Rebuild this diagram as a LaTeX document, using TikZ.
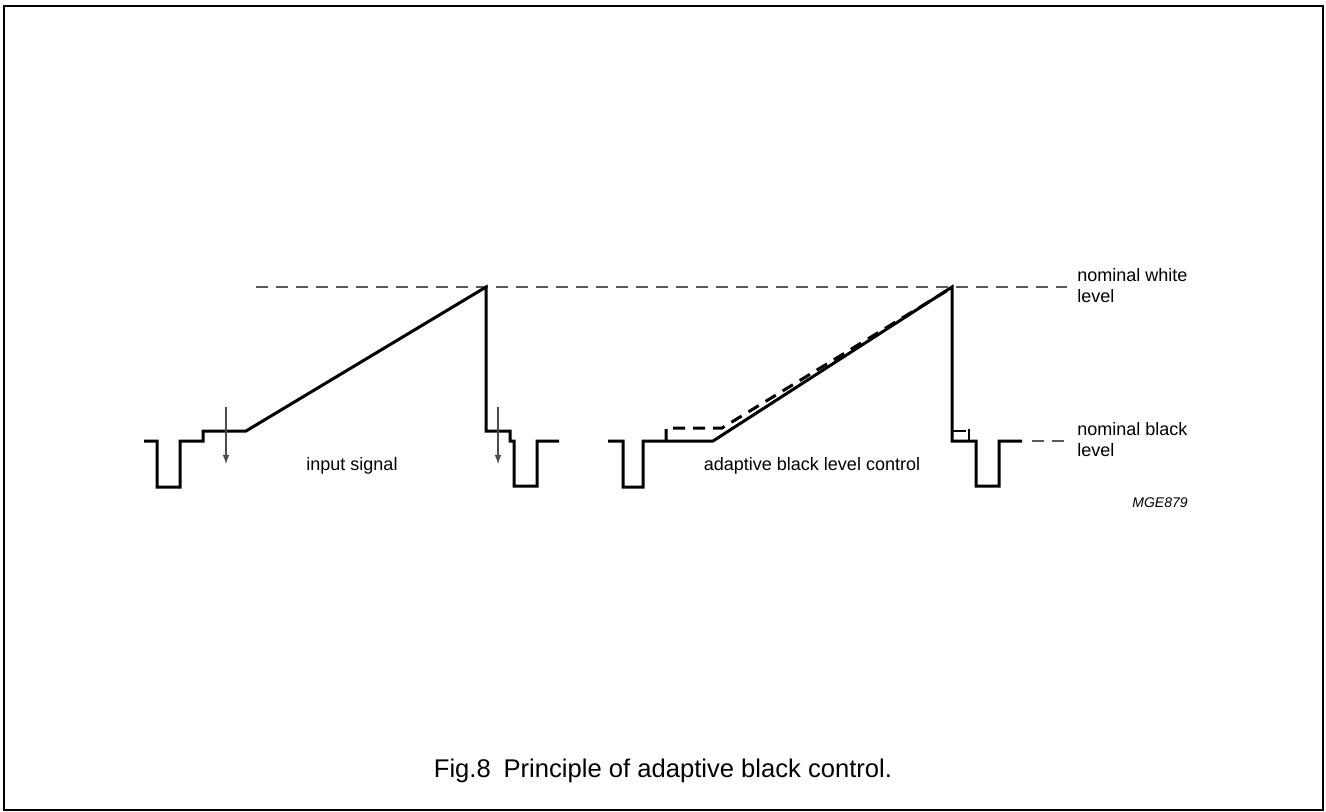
\documentclass[tikz,border=0pt]{standalone}
\usepackage{fontspec}
\setmainfont{Liberation Sans}
\usetikzlibrary{arrows}
\tikzset{
	signal/.style    = {line width=1.5pt, line join=miter},
	corrected/.style = {signal, dash pattern=on 6pt off 4pt},
	reflevel/.style  = {line width=0.7pt, gray!70!black, dash pattern=on 6pt off 4pt},
	shiftarrow/.style = {->, >=latex, line width=0.6pt, gray!60!black},
	note/.style      = {font=\fontsize{9}{10.5}\selectfont, align=left, inner sep=0pt}
}

\begin{document}
\begin{tikzpicture}[x=0.5pt, y=-0.5pt]
	\useasboundingbox (0,0) rectangle (1326,812);
	\draw[line width=1pt] (4,6) rectangle (1323,810);

	% reference levels
	\coordinate (w1) at (256,287);
	\coordinate (w2) at (1067,287);
	\coordinate (b1) at (1032,441);
	\coordinate (b2) at (1066,441);
	\draw[reflevel] (w1)--(w2);
	\draw[reflevel] (b1)--(b2);

	% input signal
	\draw[signal] (144,441)--(157,441)--(157,487)--(180,487)--(180,441)--(203,441)
		--(203,431)--(246,431)--(486,287)--(486,431)--(510,431)--(510,441)
		--(514,441)--(514,486)--(537,486)--(537,441)--(559,441);
	\coordinate (a1) at (226,407);
	\coordinate (a2) at (226,464);
	\coordinate (a3) at (498,407);
	\coordinate (a4) at (498,464);
	\draw[shiftarrow] (a1)--(a2);
	\draw[shiftarrow] (a3)--(a4);

	% adaptive black level control
	\draw[signal] (608,441)--(623,441)--(623,487)--(643,487)--(643,441)--(713,441)
		--(952,287)--(952,441)--(976,441)--(976,486)--(999,486)--(999,441)--(1022,441);
	\draw[corrected] (666,441)--(666,428)--(722,428)--(948,290);
	\draw[line width=1pt] (953,431)--(966,431) (969,429)--(969,441);

	% texts
	\node[note, anchor=west] (white) at (1077,286) {nominal white\\level};
	\node[note, anchor=west] (black) at (1077,440) {nominal black\\level};
	\node[note] (inp) at (352,466) {input signal};
	\node[note] (abl) at (812,466) {adaptive black level control};
	\node[note, font=\fontsize{7}{8}\selectfont\itshape] (code) at (1160,503) {MGE879};
	\node[font=\fontsize{12.8}{15}\selectfont, inner sep=0pt, anchor=base] (caption) at (663,777)
		{Fig.8\enspace Principle of adaptive black control.};
\end{tikzpicture}
\end{document}
